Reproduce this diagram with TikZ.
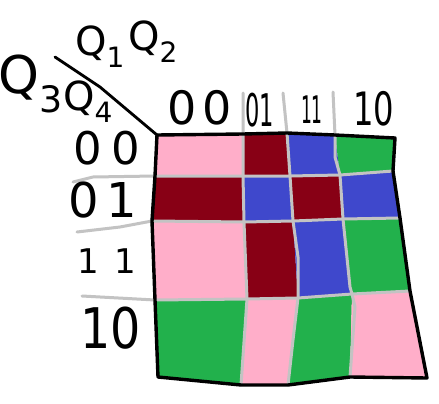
\documentclass[tikz,border=0pt]{standalone}
\usepackage{graphicx}
\usepackage{fontspec}
\setmainfont{DejaVu Sans}
\definecolor{kpink}{RGB}{255,174,201}
\definecolor{kred}{RGB}{136,0,21}
\definecolor{kblue}{RGB}{63,72,204}
\definecolor{kgreen}{RGB}{34,177,76}
\definecolor{kgray}{RGB}{195,195,195}
\newcommand\fs[1]{\fontsize{#1}{#1}\selectfont}
\begin{document}
\begin{tikzpicture}[x=1pt,y=-1pt,
  lbl/.style={inner sep=0pt},
  gridline/.style={draw=kgray, line width=3pt, line join=round, line cap=round},
  border/.style={draw=black, line width=3.4pt, line join=round},
  pen/.style={draw=black, line width=2.8pt, line cap=round, line join=round}]
\useasboundingbox (0,0) rectangle (439,404);
\fill[white] (0,0) rectangle (439,404);
% grid points
\coordinate (p00) at (157,135); \coordinate (p01) at (243,134); \coordinate (p02) at (287,133); \coordinate (p03) at (335,135); \coordinate (p04) at (395,138);
\coordinate (p10) at (155,176); \coordinate (p11) at (243,176); \coordinate (p12) at (290,176); \coordinate (p13) at (340,175); \coordinate (p14) at (393,171);
\coordinate (p20) at (152,221); \coordinate (p21) at (244,222); \coordinate (p22) at (293,221); \coordinate (p23) at (343,219); \coordinate (p24) at (400,218);
\coordinate (p30) at (155,300); \coordinate (p31) at (247,299); \coordinate (p32) at (298,298); \coordinate (p33) at (352,294); \coordinate (p34) at (410,291);
\coordinate (p40) at (158,377); \coordinate (p41) at (241,385); \coordinate (p42) at (288,385); \coordinate (p43) at (350,377); \coordinate (p44) at (427,378);
% cells
\foreach \i/\ni/\j/\nj/\c in {
  0/1/0/1/kpink, 0/1/1/2/kred, 0/1/2/3/kblue, 0/1/3/4/kgreen,
  1/2/0/1/kred, 1/2/1/2/kblue, 1/2/2/3/kred, 1/2/3/4/kblue,
  2/3/0/1/kpink, 2/3/1/2/kred, 2/3/2/3/kblue, 2/3/3/4/kgreen,
  3/4/0/1/kgreen, 3/4/1/2/kpink, 3/4/2/3/kgreen, 3/4/3/4/kpink}
  \fill[\c] (p\i\j) -- (p\i\nj) -- (p\ni\nj) -- (p\ni\j) -- cycle;
% gray grid lines
\coordinate (h1s) at (73,182); \coordinate (h2s) at (77,232); \coordinate (h3s) at (82,296);
\coordinate (v1s) at (243,93); \coordinate (v2s) at (283,93); \coordinate (v3s) at (333,92);
\draw[gridline] (h1s) -- (93,177) -- (p10) -- (p11) -- (p12) -- (p13) -- (p14);
\draw[gridline] (h2s) -- (120,227) -- (p20) -- (p21) -- (p22) -- (p23) -- (p24);
\draw[gridline] (h3s) -- (p30) -- (p31) -- (p32) -- (p33) -- (p34);
\draw[gridline] (v1s) -- (p01) -- (p11) -- (p21) -- (p31) -- (p41);
\draw[gridline] (v2s) -- (p02) -- (p12) -- (p22) -- (298,257) -- (p32) -- (293,340) -- (p42);
\draw[gridline] (v3s) -- (p03) -- (335,157) -- (p13) -- (p23) -- (350,287) -- (p33) -- (355,307) -- (p43);
% outer border
\draw[border] (p00) -- (p01) -- (p02) -- (p03) -- (p04) -- (p14) -- (p24) -- (p34) -- (p44)
  -- (p43) -- (p42) -- (p41) -- (p40) -- (p30) -- (p20) -- (p10) -- cycle;
% diagonal header line
\coordinate (dstart) at (55,57);
\draw[pen] (dstart) -- (100,87) -- (p00);
% header labels
\node[lbl] (q1) at (100,47) {\fs{40}Q\textsubscript{1}};
\node[lbl] (q2) at (153,42) {\fs{40}Q\textsubscript{2}};
\node[lbl] (q3) at (31,84) {\fs{52}Q\textsubscript{3}};
\node[lbl] (q4) at (88,102) {\fs{40}Q\textsubscript{4}};
% column labels
\node[lbl] (c00) at (200,108) {\fs{46}0\hspace{6pt}0};
\node[lbl] (c01) at (260,110) {\scalebox{0.5}[1]{\fs{45}01}};
\node[lbl] (c11) at (312,110) {\scalebox{0.45}[1]{\fs{38}11}};
\node[lbl] (c10) at (374,109) {\scalebox{0.7}[1]{\fs{46}10}};
% row labels
\node[lbl] (r00) at (107,148) {\fs{45}0\hspace{10pt}0};
\node[lbl] (r01) at (103,200) {\fs{48}0\hspace{8pt}1};
\node[lbl] (r11) at (107,261) {\fs{34}1\hspace{16pt}1};
\node[lbl] (r10) at (111,328) {\scalebox{0.85}[1]{\fs{56}10}};
\end{tikzpicture}
\end{document}
